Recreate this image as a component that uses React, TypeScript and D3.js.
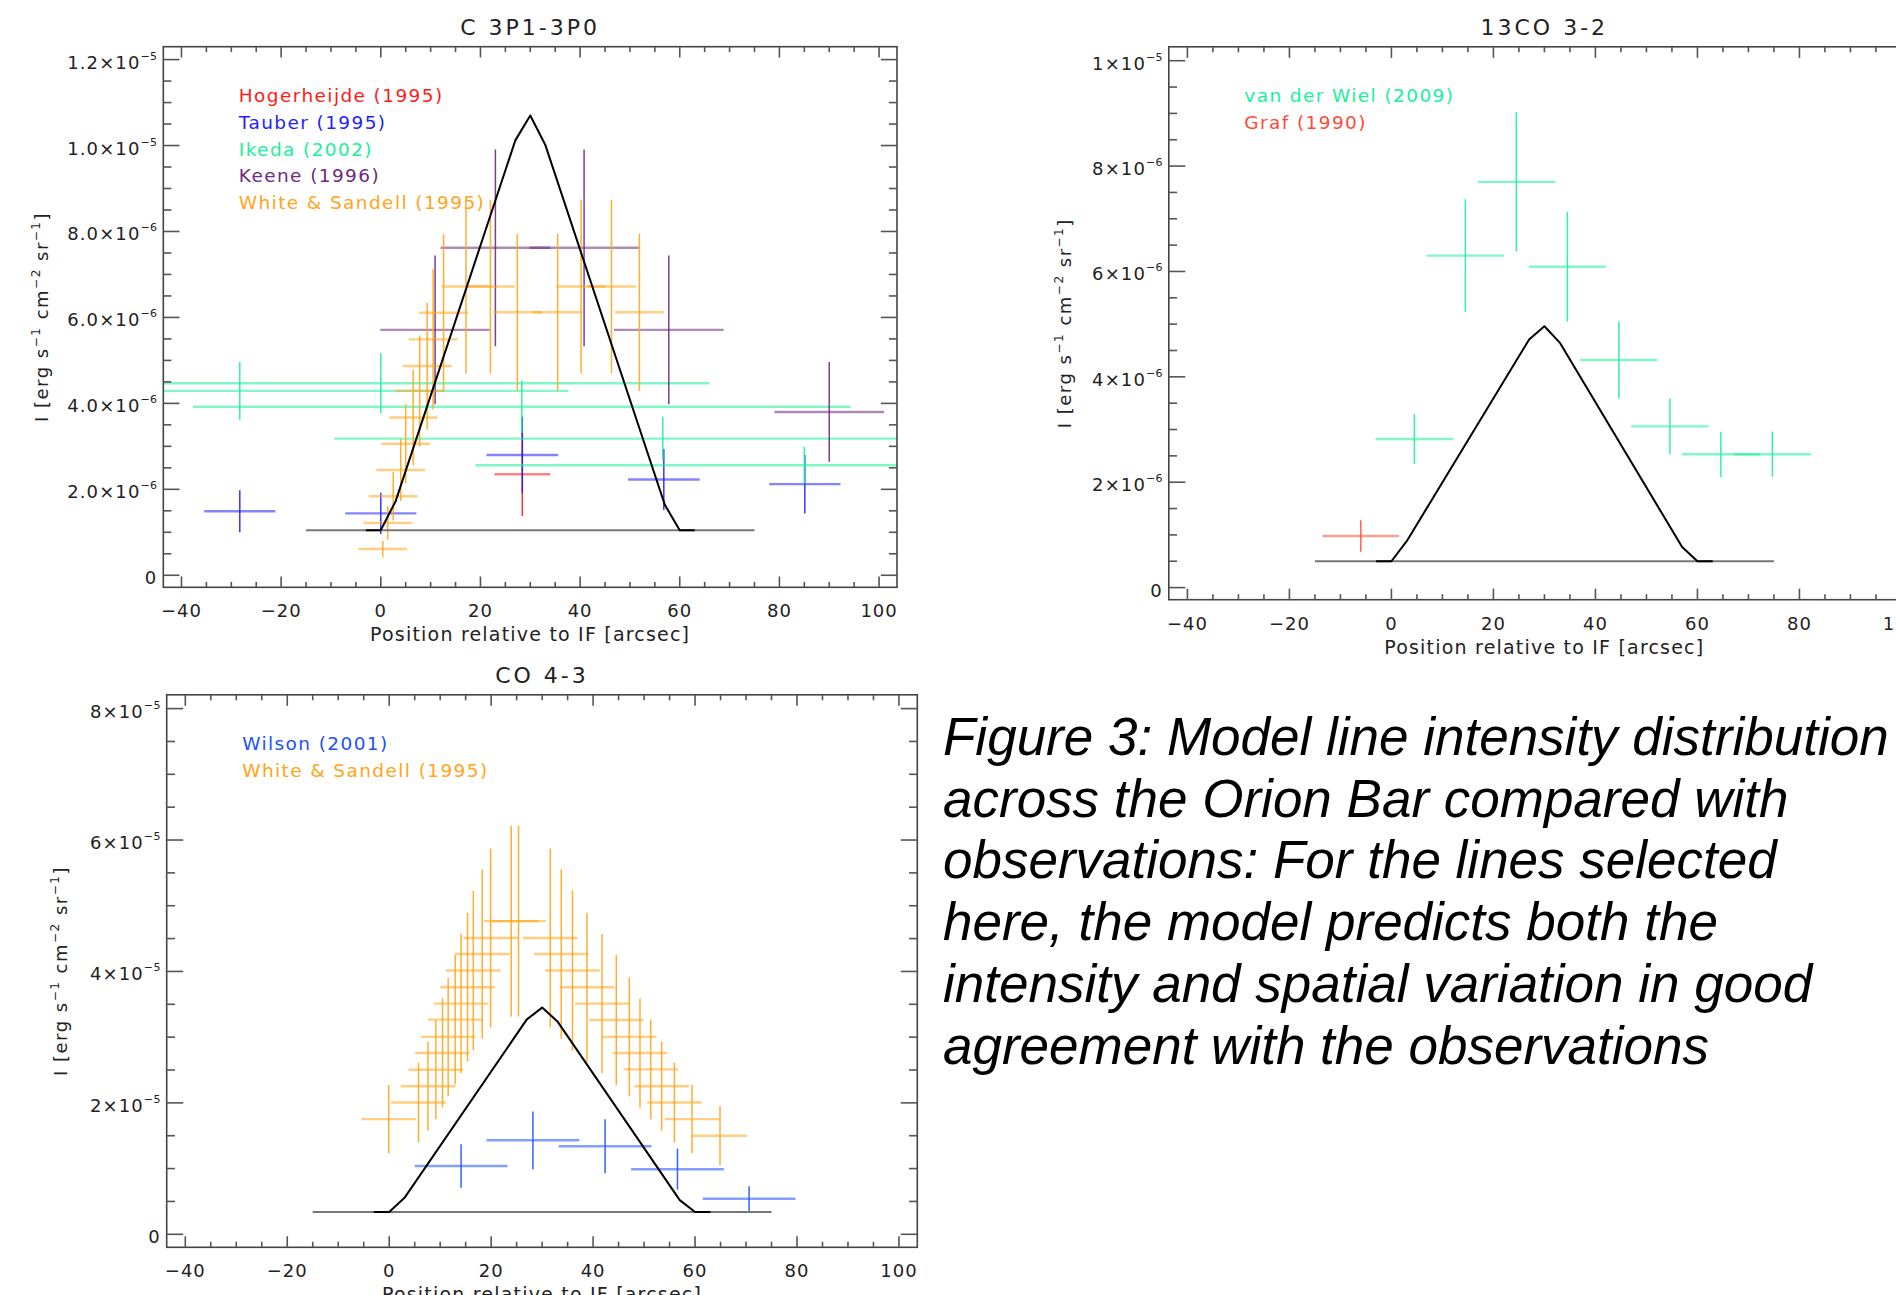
import React from 'react';
import * as d3 from 'd3';

// ---------------- DATA ----------------
// common x grid of the model vertices (arcsec)
const modelX = [-3, 0, 3, 27, 30, 33, 57, 60, 63];
const baseX = [-15, 75];

// Panel 1: C 3P1-3P0, intensities in units of 1e-6
const ciModelY = [1.05, 1.05, 1.73, 10.12, 10.7, 10.02, 1.64, 1.05, 1.05];
const ciBaseY = 1.05;
const hogerX = [28.4];
const hogerY = [2.35];
const hogerXErr = [5.6];
const hogerYErr = [0.97];
const tauberX = [-28.3, 0.0, 28.4, 56.8, 85.1];
const tauberY = [1.49, 1.44, 2.8, 2.23, 2.12];
const tauberXErr = [7.15, 7.15, 7.2, 7.2, 7.15];
const tauberYErr = [0.49, 0.48, 0.89, 0.71, 0.68];
const ikedaX = [-28.3, 0.0, 28.3, 56.6, 85.0];
const ikedaY = [4.29, 4.47, 3.92, 3.18, 2.56];
const ikedaXErr = [66, 66, 66, 66, 66];
const ikedaYErr = [0.67, 0.7, 0.61, 0.51, 0.43];
const keeneX = [10.9, 23.0, 40.8, 57.8, 90.0];
const keeneY = [5.71, 7.62, 7.62, 5.71, 3.8];
const keeneXErr = [11, 11, 11, 11, 11];
const keeneYErr = [1.73, 2.29, 2.29, 1.73, 1.16];
const wsCiX = [0.4, 1.4, 2.5, 4.0, 5.0, 6.5, 7.8, 9.3, 10.5, 12.6, 17.1, 22.0, 27.4, 35.5, 40.2, 46.3, 51.9];
const wsCiY = [0.61, 1.22, 1.84, 2.45, 3.06, 3.67, 4.29, 4.87, 5.49, 6.11, 6.72, 6.72, 6.12, 6.12, 6.72, 6.72, 6.12];
const wsCiXErr = [4.9, 4.9, 4.9, 4.9, 4.9, 4.9, 4.9, 4.9, 4.9, 4.9, 4.9, 4.9, 4.9, 4.9, 4.9, 4.9, 4.9];
const wsCiYErr = [0.19, 0.39, 0.56, 0.72, 0.92, 1.11, 1.29, 1.47, 1.63, 1.83, 2.03, 2.02, 1.83, 1.83, 2.02, 2.02, 1.83];
const ciTickVals = [0, 2, 4, 6, 8, 10, 12];
const ciTickMant = ['0', '2.0', '4.0', '6.0', '8.0', '1.0', '1.2'];
const ciTickExp = ['', '\u22126', '\u22126', '\u22126', '\u22126', '\u22125', '\u22125'];

// Panel 2: 13CO 3-2, units of 1e-6
const coModelY = [0.5, 0.5, 0.88, 4.71, 4.96, 4.65, 0.77, 0.5, 0.5];
const coBaseY = 0.5;
const wielX = [4.5, 14.5, 24.5, 34.5, 44.6, 54.6, 64.6, 74.7];
const wielY = [2.82, 6.3, 7.7, 6.09, 4.32, 3.06, 2.53, 2.53];
const wielXErr = [7.6, 7.6, 7.6, 7.6, 7.6, 7.6, 7.6, 7.6];
const wielYErr = [0.47, 1.07, 1.32, 1.04, 0.73, 0.53, 0.43, 0.43];
const grafX = [-6.0];
const grafY = [0.98];
const grafXErr = [7.5];
const grafYErr = [0.3];
const coTickVals = [0, 2, 4, 6, 8, 10];
const coTickMant = ['0', '2', '4', '6', '8', '1'];
const coTickExp = ['', '\u22126', '\u22126', '\u22126', '\u22126', '\u22125'];

// Panel 3: CO 4-3, units of 1e-5
const co43ModelY = [0.339, 0.339, 0.555, 3.27, 3.45, 3.24, 0.52, 0.339, 0.339];
const co43BaseY = 0.339;
const wilsonX = [14.1, 28.2, 42.35, 56.55, 70.6];
const wilsonY = [1.04, 1.43, 1.34, 0.99, 0.54];
const wilsonXErr = [9.1, 9.1, 9.1, 9.1, 9.1];
const wilsonYErr = [0.33, 0.44, 0.41, 0.31, 0.19];
const wsCoX = [-0.1, 5.75, 7.6, 9.15, 10.46, 11.57, 12.95, 14.1, 15.37, 16.5, 18.25, 19.9, 23.94, 25.37, 31.6, 33.75, 35.95, 38.8, 41.75, 44.55, 47.1, 49.2, 51.3, 53.45, 55.95, 59.4, 64.9];
const wsCoY = [1.753, 2.005, 2.254, 2.505, 2.76, 3.005, 3.267, 3.51, 3.76, 4.015, 4.265, 4.51, 4.766, 4.766, 4.51, 4.265, 4.015, 3.76, 3.51, 3.26, 3.005, 2.76, 2.51, 2.254, 2.005, 1.753, 1.5];
const wsCoXErr = wsCoX.map(() => 5.35);
const wsCoYErr = [0.52, 0.605, 0.677, 0.756, 0.83, 0.9, 0.983, 1.06, 1.13, 1.21, 1.286, 1.36, 1.45, 1.45, 1.36, 1.29, 1.22, 1.13, 1.06, 0.99, 0.905, 0.83, 0.76, 0.677, 0.605, 0.52, 0.45];
const co43TickVals = [0, 2, 4, 6, 8];
const co43TickMant = ['0', '2', '4', '6', '8'];
const co43TickExp = ['', '\u22125', '\u22125', '\u22125', '\u22125'];

const xMajorTicks = [-40, -20, 0, 20, 40, 60, 80, 100];
const xTickLabels = ['\u221240', '\u221220', '0', '20', '40', '60', '80', '100'];

const captionLines = [
  'Figure 3: Model line intensity distribution',
  'across the Orion Bar compared with',
  'observations: For the lines selected',
  'here, the model predicts both the',
  'intensity and spatial variation in good',
  'agreement with the observations',
];

// ---------------- STYLE ----------------
const FONT = "'DejaVu Sans', Verdana, sans-serif";
const C_RED = '#ff1a1a';
const C_BLUE = '#1f1fff';
const C_GREEN = '#19f09a';
const C_PURPLE = '#6e2a7e';
const C_ORANGE = '#ffa51a';
const C_SALMON = '#ff4a3a';
const C_WILSON = '#2050ff';
const X_DOMAIN: [number, number] = [-43.65, 103.6];

type Series = {
  name: string;
  color: string;
  x: number[];
  y: number[];
  xErr: number[];
  yErr: number[];
};

type PanelProps = {
  id: string;
  left: number;
  top: number;
  width: number;
  height: number;
  yDomain: [number, number];
  title: string;
  series: Series[];
  modelY: number[];
  baseY: number;
  tickVals: number[];
  tickMant: string[];
  tickExp: string[];
  ylabelX: number;
};

function Panel(p: PanelProps) {
  const xs = d3.scaleLinear().domain(X_DOMAIN).range([p.left, p.left + p.width]);
  const ys = d3.scaleLinear().domain(p.yDomain).range([p.top + p.height, p.top]);
  const bottom = p.top + p.height;
  const right = p.left + p.width;
  const yMinor = d3.range(0, p.yDomain[1], 0.5).filter((v) => !p.tickVals.includes(v));
  const xMinor = d3.range(-40, 101, 5).filter((v) => !xMajorTicks.includes(v));
  const yTickMaj = 0.02 * p.width + 1.5;
  const xTickMaj = 0.02 * p.height;
  const line = d3
    .line<number>()
    .x((_, i) => xs(modelX[i]))
    .y((d) => ys(d));
  const tickColor = '#555';
  return (
    <g>
      <defs>
        <clipPath id={p.id}>
          <rect x={p.left} y={p.top} width={p.width} height={p.height} />
        </clipPath>
      </defs>
      {/* title */}
      <text x={(p.left + right) / 2} y={p.top - 12} textAnchor="middle" fontFamily={FONT} fontSize={22} letterSpacing={3} fill="#222">
        {p.title}
      </text>
      {/* data */}
      <g clipPath={`url(#${p.id})`}>
        {p.series.map((s, si) => (
          <g key={si}>
            {s.x.map((xv, i) => (
              <g key={i}>
                <line x1={xs(xv - s.xErr[i])} x2={xs(xv + s.xErr[i])} y1={ys(s.y[i])} y2={ys(s.y[i])} stroke={s.color} strokeWidth={2.4} strokeOpacity={0.55} />
                <line x1={xs(xv)} x2={xs(xv)} y1={ys(s.y[i] - s.yErr[i])} y2={ys(s.y[i] + s.yErr[i])} stroke={s.color} strokeWidth={1.5} strokeOpacity={0.9} />
              </g>
            ))}
          </g>
        ))}
        <line x1={xs(baseX[0])} x2={xs(baseX[1])} y1={ys(p.baseY)} y2={ys(p.baseY)} stroke="#777" strokeWidth={2} />
        <path d={line(p.modelY) || ''} fill="none" stroke="#000" strokeWidth={2} strokeLinejoin="round" />
      </g>
      {/* box */}
      <rect x={p.left} y={p.top} width={p.width} height={p.height} fill="none" stroke="#444" strokeWidth={1.6} />
      {/* y ticks */}
      {p.tickVals.map((v, i) => (
        <g key={'yt' + i}>
          <line x1={p.left} x2={p.left + yTickMaj} y1={ys(v)} y2={ys(v)} stroke={tickColor} strokeWidth={1.6} />
          <line x1={right} x2={right - yTickMaj} y1={ys(v)} y2={ys(v)} stroke={tickColor} strokeWidth={1.6} />
          <text x={p.left - 6} y={ys(v) + 9} textAnchor="end" fontFamily={FONT} fontSize={18} letterSpacing={1.1} fill="#222">
            {p.tickMant[i]}
            {p.tickExp[i] ? (
              <>
                <tspan>{'\u00d710'}</tspan>
                <tspan dy={-9} fontSize={11} letterSpacing={0.3}>
                  {p.tickExp[i]}
                </tspan>
              </>
            ) : null}
          </text>
        </g>
      ))}
      {yMinor.map((v, i) => (
        <g key={'ym' + i}>
          <line x1={p.left} x2={p.left + yTickMaj / 2} y1={ys(v)} y2={ys(v)} stroke={tickColor} strokeWidth={1.6} />
          <line x1={right} x2={right - yTickMaj / 2} y1={ys(v)} y2={ys(v)} stroke={tickColor} strokeWidth={1.6} />
        </g>
      ))}
      {/* x ticks */}
      {xMajorTicks.map((v, i) => (
        <g key={'xt' + i}>
          <line x1={xs(v)} x2={xs(v)} y1={bottom} y2={bottom - xTickMaj} stroke={tickColor} strokeWidth={1.6} />
          <line x1={xs(v)} x2={xs(v)} y1={p.top} y2={p.top + xTickMaj} stroke={tickColor} strokeWidth={1.6} />
          <text x={xs(v)} y={bottom + 30} textAnchor="middle" fontFamily={FONT} fontSize={18} letterSpacing={1} fill="#222">
            {xTickLabels[i]}
          </text>
        </g>
      ))}
      {xMinor.map((v, i) => (
        <g key={'xm' + i}>
          <line x1={xs(v)} x2={xs(v)} y1={bottom} y2={bottom - xTickMaj / 2} stroke={tickColor} strokeWidth={1.6} />
          <line x1={xs(v)} x2={xs(v)} y1={p.top} y2={p.top + xTickMaj / 2} stroke={tickColor} strokeWidth={1.6} />
        </g>
      ))}
      {/* x label */}
      <text x={(p.left + right) / 2} y={bottom + 54} textAnchor="middle" fontFamily={FONT} fontSize={19} letterSpacing={1.2} fill="#222">
        Position relative to IF [arcsec]
      </text>
      {/* y label */}
      <text transform={`translate(${p.ylabelX},${p.top + p.height / 2}) rotate(-90)`} textAnchor="middle" fontFamily={FONT} fontSize={18} letterSpacing={1.5} fill="#222">
        <tspan>{'I  [erg s'}</tspan>
        <tspan dy={-8} fontSize={12}>{'\u22121'}</tspan>
        <tspan dy={8}>{' cm'}</tspan>
        <tspan dy={-8} fontSize={12}>{'\u22122'}</tspan>
        <tspan dy={8}>{' sr'}</tspan>
        <tspan dy={-8} fontSize={12}>{'\u22121'}</tspan>
        <tspan dy={8}>{']'}</tspan>
      </text>
      {/* legend */}
      {p.series.map((s, i) => (
        <text key={'lg' + i} x={p.left + 75.5} y={p.top + 55 + i * 26.9} fontFamily={FONT} fontSize={18.5} letterSpacing={1.4} fill={s.color}>
          {s.name}
        </text>
      ))}
    </g>
  );
}

export default function App() {
  const ciSeries: Series[] = [
    { name: 'Hogerheijde (1995)', color: C_RED, x: hogerX, y: hogerY, xErr: hogerXErr, yErr: hogerYErr },
    { name: 'Tauber (1995)', color: C_BLUE, x: tauberX, y: tauberY, xErr: tauberXErr, yErr: tauberYErr },
    { name: 'Ikeda (2002)', color: C_GREEN, x: ikedaX, y: ikedaY, xErr: ikedaXErr, yErr: ikedaYErr },
    { name: 'Keene (1996)', color: C_PURPLE, x: keeneX, y: keeneY, xErr: keeneXErr, yErr: keeneYErr },
    { name: 'White & Sandell (1995)', color: C_ORANGE, x: wsCiX, y: wsCiY, xErr: wsCiXErr, yErr: wsCiYErr },
  ];
  const coSeries: Series[] = [
    { name: 'van der Wiel (2009)', color: C_GREEN, x: wielX, y: wielY, xErr: wielXErr, yErr: wielYErr },
    { name: 'Graf (1990)', color: C_SALMON, x: grafX, y: grafY, xErr: grafXErr, yErr: grafYErr },
  ];
  const co43Series: Series[] = [
    { name: 'Wilson (2001)', color: C_WILSON, x: wilsonX, y: wilsonY, xErr: wilsonXErr, yErr: wilsonYErr },
    { name: 'White & Sandell (1995)', color: C_ORANGE, x: wsCoX, y: wsCoY, xErr: wsCoXErr, yErr: wsCoYErr },
  ];
  return (
    <svg
      width={1896}
      height={1295}
      style={{ position: 'fixed', left: 0, top: 0, background: '#fff' }}
      xmlns="http://www.w3.org/2000/svg"
    >
      <rect x={0} y={0} width={1896} height={1295} fill="#fff" />
      <Panel id="clipA" left={163.3} top={46.7} width={733.7} height={540.6} yDomain={[-0.28, 12.3]} title="C 3P1-3P0"
        series={ciSeries} modelY={ciModelY} baseY={ciBaseY} tickVals={ciTickVals} tickMant={ciTickMant} tickExp={ciTickExp} ylabelX={48} />
      <Panel id="clipB" left={1168.8} top={46.8} width={751} height={552.9} yDomain={[-0.23, 10.264]} title="13CO 3-2"
        series={coSeries} modelY={coModelY} baseY={coBaseY} tickVals={coTickVals} tickMant={coTickMant} tickExp={coTickExp} ylabelX={1071} />
      <Panel id="clipC" left={166.7} top={694.8} width={750.6} height={552.5} yDomain={[-0.198, 8.21]} title="CO 4-3"
        series={co43Series} modelY={co43ModelY} baseY={co43BaseY} tickVals={co43TickVals} tickMant={co43TickMant} tickExp={co43TickExp} ylabelX={66.5} />
      {captionLines.map((t, i) => (
        <text key={i} x={943} y={755 + i * 61.7} fontFamily="'Liberation Sans', Arial, sans-serif" fontStyle="italic" fontSize={53} fill="#000">
          {t}
        </text>
      ))}
    </svg>
  );
}
